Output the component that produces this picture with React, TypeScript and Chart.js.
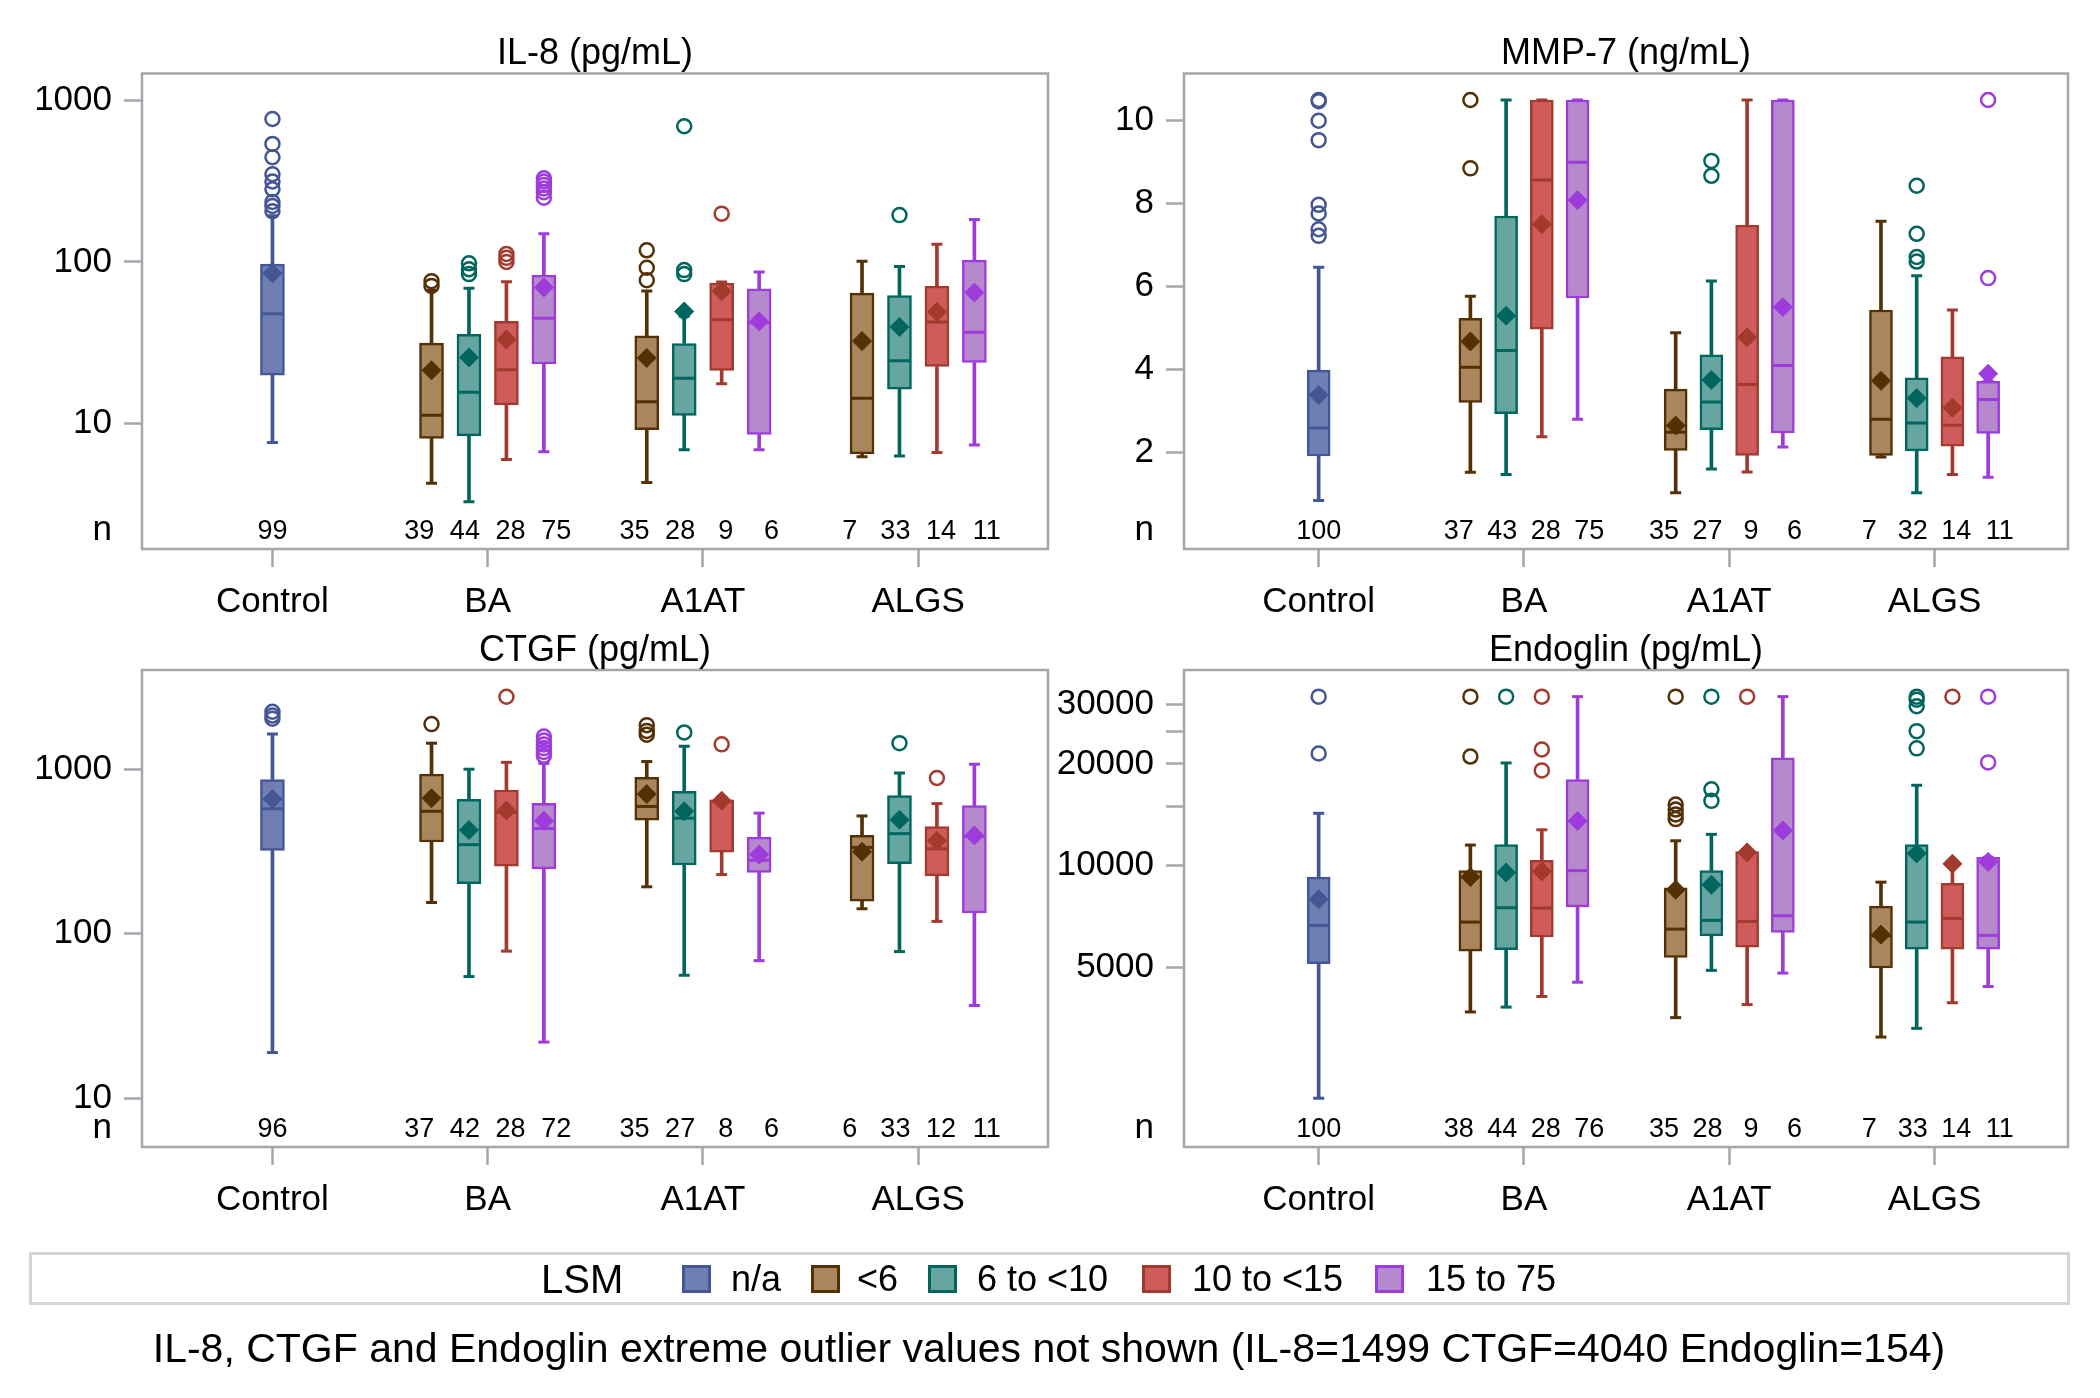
import React, { useEffect, useRef } from 'react';
import { Chart, registerables } from 'chart.js';

Chart.register(...registerables);

const FONT = '"Liberation Sans", Arial, Helvetica, sans-serif';
const FRAME = '#A2A7AC';

// ---------------- data ----------------
const CATEGORIES = ['Control', 'BA', 'A1AT', 'ALGS'];
const LSM_GROUPS = ['n/a', '<6', '6 to <10', '10 to <15', '15 to 75'];
const LSM_FILL = ['#6F7EB3', '#A9865B', '#66A5A0', '#D05B5B', '#B689CD'];
const LSM_LINE = ['#445694', '#543005', '#01665E', '#A23A2E', '#9D3CDB'];

// box order: Control(n/a), BA x4, A1AT x4, ALGS x4
const BOX_CATEGORY = [0, 1, 1, 1, 1, 2, 2, 2, 2, 3, 3, 3, 3];
const BOX_GROUP = [0, 1, 2, 3, 4, 1, 2, 3, 4, 1, 2, 3, 4];

// IL-8 (pg/mL)
const IL8_LOW = [7.6, 4.25, 3.27, 5.96, 6.67, 4.3, 6.86, 17.6, 6.86, 6.2, 6.27, 6.59, 7.33];
const IL8_Q1 = [19.9, 8.07, 8.36, 13.0, 23.3, 9.14, 11.2, 21.3, 8.53, 6.47, 16.3, 22.5, 23.8];
const IL8_MED = [47.7, 11.2, 15.6, 21.5, 44.8, 13.6, 19.0, 43.8, 42, 14.3, 24.4, 42.4, 36.6];
const IL8_Q3 = [97, 31.4, 35.6, 42.8, 82.8, 34.8, 31.2, 74, 68, 64, 61.8, 70.8, 102.5];
const IL8_HIGH = [193, 66.8, 68.7, 75.3, 149.6, 66, 46, 75, 86.7, 101, 93.7, 128.5, 183];
const IL8_MEAN = [85, 21.3, 25.6, 33.0, 69.5, 25.4, 49.3, 65.7, 42.8, 32.3, 39.5, 49, 64.6];
const IL8_OUT = [
  [768, 538, 445, 349, 315, 282, 235, 222, 206],
  [76, 71],
  [98, 90, 84],
  [112, 106, 100],
  [330, 315, 300, 285, 270, 250],
  [118, 92, 77],
  [693, 89, 84],
  [199],
  [],
  [],
  [195],
  [],
  [],
];
const IL8_N = [99, 39, 44, 28, 75, 35, 28, 9, 6, 7, 33, 14, 11];

// MMP-7 (ng/mL)
const MMP7_LOW = [0.83, 1.51, 1.46, 2.37, 2.79, 1.02, 1.59, 1.52, 2.12, 1.88, 1.02, 1.46, 1.39];
const MMP7_Q1 = [1.905, 3.2, 2.93, 4.97, 5.72, 2.04, 2.54, 1.92, 2.46, 1.92, 2.03, 2.14, 2.45];
const MMP7_MED = [2.58, 4.05, 4.45, 8.57, 9.0, 2.48, 3.21, 3.63, 4.09, 2.79, 2.7, 2.65, 3.27];
const MMP7_Q3 = [3.98, 5.23, 7.7, 10.5, 10.5, 3.52, 4.35, 7.48, 10.5, 5.43, 3.79, 4.3, 3.71];
const MMP7_HIGH = [6.46, 5.76, 10.5, 10.5, 10.5, 4.88, 6.13, 10.5, 10.5, 7.57, 6.26, 5.43, 3.71];
const MMP7_MEAN = [3.38, 4.67, 5.29, 7.5, 8.08, 2.64, 3.74, 4.77, 5.5, 3.72, 3.3, 3.07, 3.89];
const MMP7_OUT = [
  [10.5, 10.47, 10.0, 9.53, 7.97, 7.76, 7.38, 7.22],
  [10.5, 8.85],
  [],
  [],
  [],
  [],
  [9.03, 8.67],
  [],
  [],
  [],
  [8.43, 7.27, 6.71, 6.6],
  [],
  [10.5, 6.2],
];
const MMP7_N = [100, 37, 43, 28, 75, 35, 27, 9, 6, 7, 32, 14, 11];

// CTGF (pg/mL)
const CTGF_LOW = [19, 155, 55, 78.5, 22, 193, 56, 229, 68.7, 142, 78, 119, 36.7];
const CTGF_Q1 = [321, 361, 202, 258, 248, 490, 262, 313, 236, 158, 267, 225, 134];
const CTGF_MED = [575, 555, 348, 546, 436, 594, 504, 638, 280, 335, 406, 328, 390];
const CTGF_Q3 = [865, 933, 655, 748, 621, 893, 733, 652, 387, 396, 691, 448, 601];
const CTGF_HIGH = [1636, 1439, 1000, 1101, 1084, 1113, 1379, 676, 541, 520, 948, 618, 1072];
const CTGF_MEAN = [659, 666, 427, 561, 486, 706, 555, 644, 303, 315, 493, 367, 396];
const CTGF_OUT = [
  [2233, 2118, 2028],
  [1879],
  [],
  [2756],
  [1578, 1494, 1415, 1343, 1273, 1206],
  [1852, 1708, 1619],
  [1672],
  [1416],
  [],
  [],
  [1439],
  [884],
  [],
];
const CTGF_N = [96, 37, 42, 28, 72, 35, 27, 8, 6, 6, 33, 12, 11];

// Endoglin (pg/mL)
const ENDO_LOW = [2050, 3690, 3814, 4100, 4520, 3550, 4900, 3880, 4810, 3110, 3300, 3930, 4390];
const ENDO_Q1 = [5130, 5585, 5640, 6150, 7550, 5350, 6200, 5740, 6350, 4980, 5660, 5660, 5660];
const ENDO_MED = [6655, 6810, 7510, 7490, 9670, 6490, 6890, 6840, 7110, 6200, 6810, 6980, 6220];
const ENDO_Q3 = [9250, 9670, 11540, 10370, 17990, 8600, 9670, 11010, 20840, 7590, 11540, 8870, 10590];
const ENDO_HIGH = [14290, 11510, 20140, 12770, 31650, 11850, 12380, 11010, 31650, 8940, 17300, 10300, 10590];
const ENDO_MEAN = [7950, 9250, 9540, 9620, 13560, 8490, 8780, 10950, 12710, 6250, 10870, 10130, 10260];
const ENDO_OUT = [
  [31650, 21480],
  [31650, 21040],
  [31650],
  [31650, 22080, 19140],
  [],
  [31650, 15170, 14660, 14180, 13740],
  [31650, 16830, 15560],
  [31650],
  [],
  [],
  [31650, 31000, 29650, 25010, 22250],
  [31650],
  [31650, 20220],
];
const ENDO_N = [100, 38, 44, 28, 76, 35, 28, 9, 6, 7, 33, 14, 11];

// axis ticks
const IL8_TICKS = [10, 100, 1000];
const IL8_TICK_LABELS = ['10', '100', '1000'];
const MMP7_TICKS = [2, 4, 6, 8, 10];
const MMP7_TICK_LABELS = ['2', '4', '6', '8', '10'];
const CTGF_TICKS = [10, 100, 1000];
const CTGF_TICK_LABELS = ['10', '100', '1000'];
const ENDO_TICKS = [5000, 10000, 15000, 20000, 25000, 30000];
const ENDO_TICK_LABELS = ['5000', '10000', '', '20000', '', '30000'];

const FOOTNOTE =
  'IL-8, CTGF and Endoglin extreme outlier values not shown (IL-8=1499 CTGF=4040 Endoglin=154)';

// ---------------- layout ----------------
const W = 2100;
const H = 1398;
const GROUP_STEP = 0.174;
const N_STEP = 0.212;
const Y_AXIS_W = 130;
const X_AXIS_H = 100;

const boxX = (i: number) =>
  BOX_CATEGORY[i] + (BOX_GROUP[i] === 0 ? 0 : (BOX_GROUP[i] - 2.5) * GROUP_STEP);
const nX = (i: number) =>
  BOX_CATEGORY[i] + (BOX_GROUP[i] === 0 ? 0 : (BOX_GROUP[i] - 2.5) * N_STEP);

type PanelDef = {
  title: string;
  low: number[];
  q1: number[];
  med: number[];
  q3: number[];
  high: number[];
  mean: number[];
  out: number[][];
  n: number[];
  yType: 'linear' | 'logarithmic';
  yMin: number;
  yMax: number;
  ticks: number[];
  tickLabels: string[];
  area: { left: number; top: number; right: number; bottom: number };
  xMin: number;
  xMax: number;
  boxW: number;
};

const PANELS: PanelDef[] = [
  {
    title: 'IL-8 (pg/mL)',
    low: IL8_LOW, q1: IL8_Q1, med: IL8_MED, q3: IL8_Q3, high: IL8_HIGH, mean: IL8_MEAN, out: IL8_OUT, n: IL8_N,
    yType: 'logarithmic', yMin: 1.664, yMax: 1470, ticks: IL8_TICKS, tickLabels: IL8_TICK_LABELS,
    area: { left: 142, top: 73.5, right: 1048, bottom: 549 }, xMin: -0.606, xMax: 3.603, boxW: 24,
  },
  {
    title: 'MMP-7 (ng/mL)',
    low: MMP7_LOW, q1: MMP7_Q1, med: MMP7_MED, q3: MMP7_Q3, high: MMP7_HIGH, mean: MMP7_MEAN, out: MMP7_OUT, n: MMP7_N,
    yType: 'linear', yMin: -0.34, yMax: 11.14, ticks: MMP7_TICKS, tickLabels: MMP7_TICK_LABELS,
    area: { left: 1184, top: 73.5, right: 2068, bottom: 549 }, xMin: -0.656, xMax: 3.65, boxW: 23,
  },
  {
    title: 'CTGF (pg/mL)',
    low: CTGF_LOW, q1: CTGF_Q1, med: CTGF_MED, q3: CTGF_Q3, high: CTGF_HIGH, mean: CTGF_MEAN, out: CTGF_OUT, n: CTGF_N,
    yType: 'logarithmic', yMin: 5.07, yMax: 4005, ticks: CTGF_TICKS, tickLabels: CTGF_TICK_LABELS,
    area: { left: 142, top: 670, right: 1048, bottom: 1147 }, xMin: -0.606, xMax: 3.603, boxW: 24,
  },
  {
    title: 'Endoglin (pg/mL)',
    low: ENDO_LOW, q1: ENDO_Q1, med: ENDO_MED, q3: ENDO_Q3, high: ENDO_HIGH, mean: ENDO_MEAN, out: ENDO_OUT, n: ENDO_N,
    yType: 'logarithmic', yMin: 1470, yMax: 37950, ticks: ENDO_TICKS, tickLabels: ENDO_TICK_LABELS,
    area: { left: 1184, top: 670, right: 2068, bottom: 1147 }, xMin: -0.656, xMax: 3.65, boxW: 23,
  },
];

function buildConfig(p: PanelDef): any {
  const idx = BOX_GROUP.map((_, i) => i);
  const lineCols = BOX_GROUP.map((g) => LSM_LINE[g]);
  const fillCols = BOX_GROUP.map((g) => LSM_FILL[g]);

  const outPts: { x: number; y: number }[] = [];
  const outCols: string[] = [];
  idx.forEach((i) => {
    p.out[i].forEach((v) => {
      outPts.push({ x: boxX(i), y: v });
      outCols.push(lineCols[i]);
    });
  });

  const whiskerData = [
    ...idx.map((i) => ({ x: boxX(i), y: [p.low[i], p.q1[i]] })),
    ...idx.map((i) => ({ x: boxX(i), y: [p.q3[i], p.high[i]] })),
  ];
  const whiskerCols = [...lineCols, ...lineCols];
  const capData = [
    ...idx.map((i) => ({ x: boxX(i), y: p.low[i] })),
    ...idx.map((i) => ({ x: boxX(i), y: p.high[i] })),
  ];

  const decor = {
    id: 'panelDecor',
    afterDraw(chart: any) {
      const { ctx, chartArea: a, scales } = chart;
      ctx.save();
      ctx.strokeStyle = FRAME;
      ctx.lineWidth = 2.5;
      ctx.strokeRect(a.left, a.top, a.right - a.left, a.bottom - a.top);
      ctx.fillStyle = '#000';
      ctx.textBaseline = 'alphabetic';
      ctx.textAlign = 'center';
      ctx.font = `36px ${FONT}`;
      ctx.fillText(p.title, (a.left + a.right) / 2, a.top - 9.5);
      ctx.font = `27px ${FONT}`;
      p.n.forEach((n, i) => {
        ctx.fillText(String(n), scales.x.getPixelForValue(nX(i)), a.bottom - 10);
      });
      ctx.textAlign = 'right';
      ctx.font = `35px ${FONT}`;
      ctx.fillText('n', a.left - 30, a.bottom - 9.5);
      ctx.restore();
    },
  };

  return {
    type: 'bar',
    data: {
      datasets: [
        {
          type: 'scatter',
          label: 'outliers',
          data: outPts,
          order: 1,
          pointStyle: 'circle',
          pointRadius: 7,
          pointBorderWidth: 2.5,
          pointBorderColor: outCols,
          pointBackgroundColor: 'rgba(0,0,0,0)',
        },
        {
          type: 'scatter',
          label: 'mean',
          data: idx.map((i) => ({ x: boxX(i), y: p.mean[i] })),
          order: 2,
          pointStyle: 'rectRot',
          pointRadius: 9.5,
          pointBorderWidth: 1,
          pointBorderColor: lineCols,
          pointBackgroundColor: lineCols,
        },
        {
          type: 'scatter',
          label: 'median',
          data: idx.map((i) => ({ x: boxX(i), y: p.med[i] })),
          order: 3,
          pointStyle: 'line',
          pointRadius: p.boxW / 2 - 1.5,
          pointBorderWidth: 3,
          pointBorderColor: lineCols,
        },
        {
          type: 'scatter',
          label: 'caps',
          data: capData,
          order: 4,
          pointStyle: 'line',
          pointRadius: 5.5,
          pointBorderWidth: 3,
          pointBorderColor: whiskerCols,
        },
        {
          type: 'bar',
          label: 'box',
          data: idx.map((i) => ({ x: boxX(i), y: [p.q1[i], p.q3[i]] })),
          order: 5,
          grouped: false,
          barThickness: p.boxW,
          maxBarThickness: p.boxW,
          backgroundColor: fillCols,
          borderColor: lineCols,
          borderWidth: 2.5,
          borderSkipped: false,
        },
        {
          type: 'bar',
          label: 'whiskers',
          data: whiskerData,
          order: 6,
          grouped: false,
          barThickness: 3,
          maxBarThickness: 3,
          backgroundColor: whiskerCols,
          borderWidth: 0,
        },
      ],
    },
    options: {
      responsive: false,
      animation: false,
      events: [],
      layout: {
        padding: {
          left: p.area.left - Y_AXIS_W,
          right: W - p.area.right,
          top: p.area.top,
          bottom: H - p.area.bottom - X_AXIS_H,
        },
      },
      plugins: {
        legend: { display: false },
        tooltip: { enabled: false },
        title: { display: false },
      },
      scales: {
        x: {
          type: 'linear',
          min: p.xMin,
          max: p.xMax,
          bounds: 'data',
          offset: false,
          afterBuildTicks: (s: any) => {
            s.ticks = CATEGORIES.map((_, i) => ({ value: i }));
          },
          afterFit: (s: any) => {
            s.height = X_AXIS_H;
          },
          ticks: {
            callback: (v: number) => CATEGORIES[Math.round(v)] ?? '',
            font: { size: 35, family: FONT },
            color: '#000',
            padding: 14,
            maxRotation: 0,
            autoSkip: false,
          },
          grid: {
            drawOnChartArea: false,
            drawTicks: true,
            tickLength: 18,
            tickWidth: 2.5,
            tickColor: FRAME,
            offset: false,
          },
          border: { display: false },
        },
        y: {
          type: p.yType,
          min: p.yMin,
          max: p.yMax,
          bounds: 'data',
          afterBuildTicks: (s: any) => {
            s.ticks = p.ticks.map((v) => ({ value: v }));
          },
          afterFit: (s: any) => {
            s.width = Y_AXIS_W;
          },
          ticks: {
            callback: (v: number) => {
              const k = p.ticks.findIndex((t) => Math.abs(t - v) < 1e-6 * Math.max(1, t));
              return k >= 0 ? p.tickLabels[k] : '';
            },
            font: { size: 35, family: FONT },
            color: '#000',
            padding: 12,
            autoSkip: false,
          },
          grid: {
            drawOnChartArea: false,
            drawTicks: true,
            tickLength: 18,
            tickWidth: 2.5,
            tickColor: FRAME,
          },
          border: { display: false },
        },
      },
    },
    plugins: [decor],
  };
}

function Panel({ def }: { def: PanelDef }) {
  const ref = useRef<HTMLCanvasElement | null>(null);
  useEffect(() => {
    if (!ref.current) return;
    const chart = new Chart(ref.current, buildConfig(def));
    return () => chart.destroy();
  }, [def]);
  return (
    <canvas
      ref={ref}
      width={W}
      height={H}
      style={{ position: 'absolute', left: 0, top: 0, width: W, height: H }}
    />
  );
}

const SWATCH_LEFT = [682, 811, 928, 1142, 1375];
const LABEL_LEFT = [731, 857, 977, 1192, 1426];

export default function App() {
  useEffect(() => {
    document.body.style.margin = '0';
  }, []);
  return (
    <div
      style={{
        position: 'absolute',
        left: 0,
        top: 0,
        width: W,
        height: H,
        background: '#fff',
        fontFamily: FONT,
        overflow: 'hidden',
      }}
    >
      {PANELS.map((p) => (
        <Panel key={p.title} def={p} />
      ))}
      <div
        style={{
          position: 'absolute',
          left: 29,
          top: 1252,
          width: 2041,
          height: 53,
          boxSizing: 'border-box',
          border: '3px solid #D4D4D4',
        }}
      />
      <div
        style={{
          position: 'absolute',
          left: 541,
          top: 1279 - 22,
          height: 44,
          lineHeight: '44px',
          fontSize: 40,
          color: '#000',
          whiteSpace: 'nowrap',
        }}
      >
        LSM
      </div>
      {LSM_GROUPS.map((g, i) => (
        <React.Fragment key={g}>
          <div
            style={{
              position: 'absolute',
              left: SWATCH_LEFT[i],
              top: 1265,
              width: 29,
              height: 28,
              boxSizing: 'border-box',
              background: LSM_FILL[i],
              border: `3px solid ${LSM_LINE[i]}`,
            }}
          />
          <div
            style={{
              position: 'absolute',
              left: LABEL_LEFT[i],
              top: 1279 - 20,
              height: 40,
              lineHeight: '40px',
              fontSize: 36,
              color: '#000',
              whiteSpace: 'nowrap',
            }}
          >
            {g}
          </div>
        </React.Fragment>
      ))}
      <div
        style={{
          position: 'absolute',
          left: 0,
          width: 2098,
          top: 1348 - 23,
          height: 46,
          lineHeight: '46px',
          fontSize: 41,
          color: '#000',
          textAlign: 'center',
          whiteSpace: 'nowrap',
        }}
      >
        {FOOTNOTE}
      </div>
    </div>
  );
}
